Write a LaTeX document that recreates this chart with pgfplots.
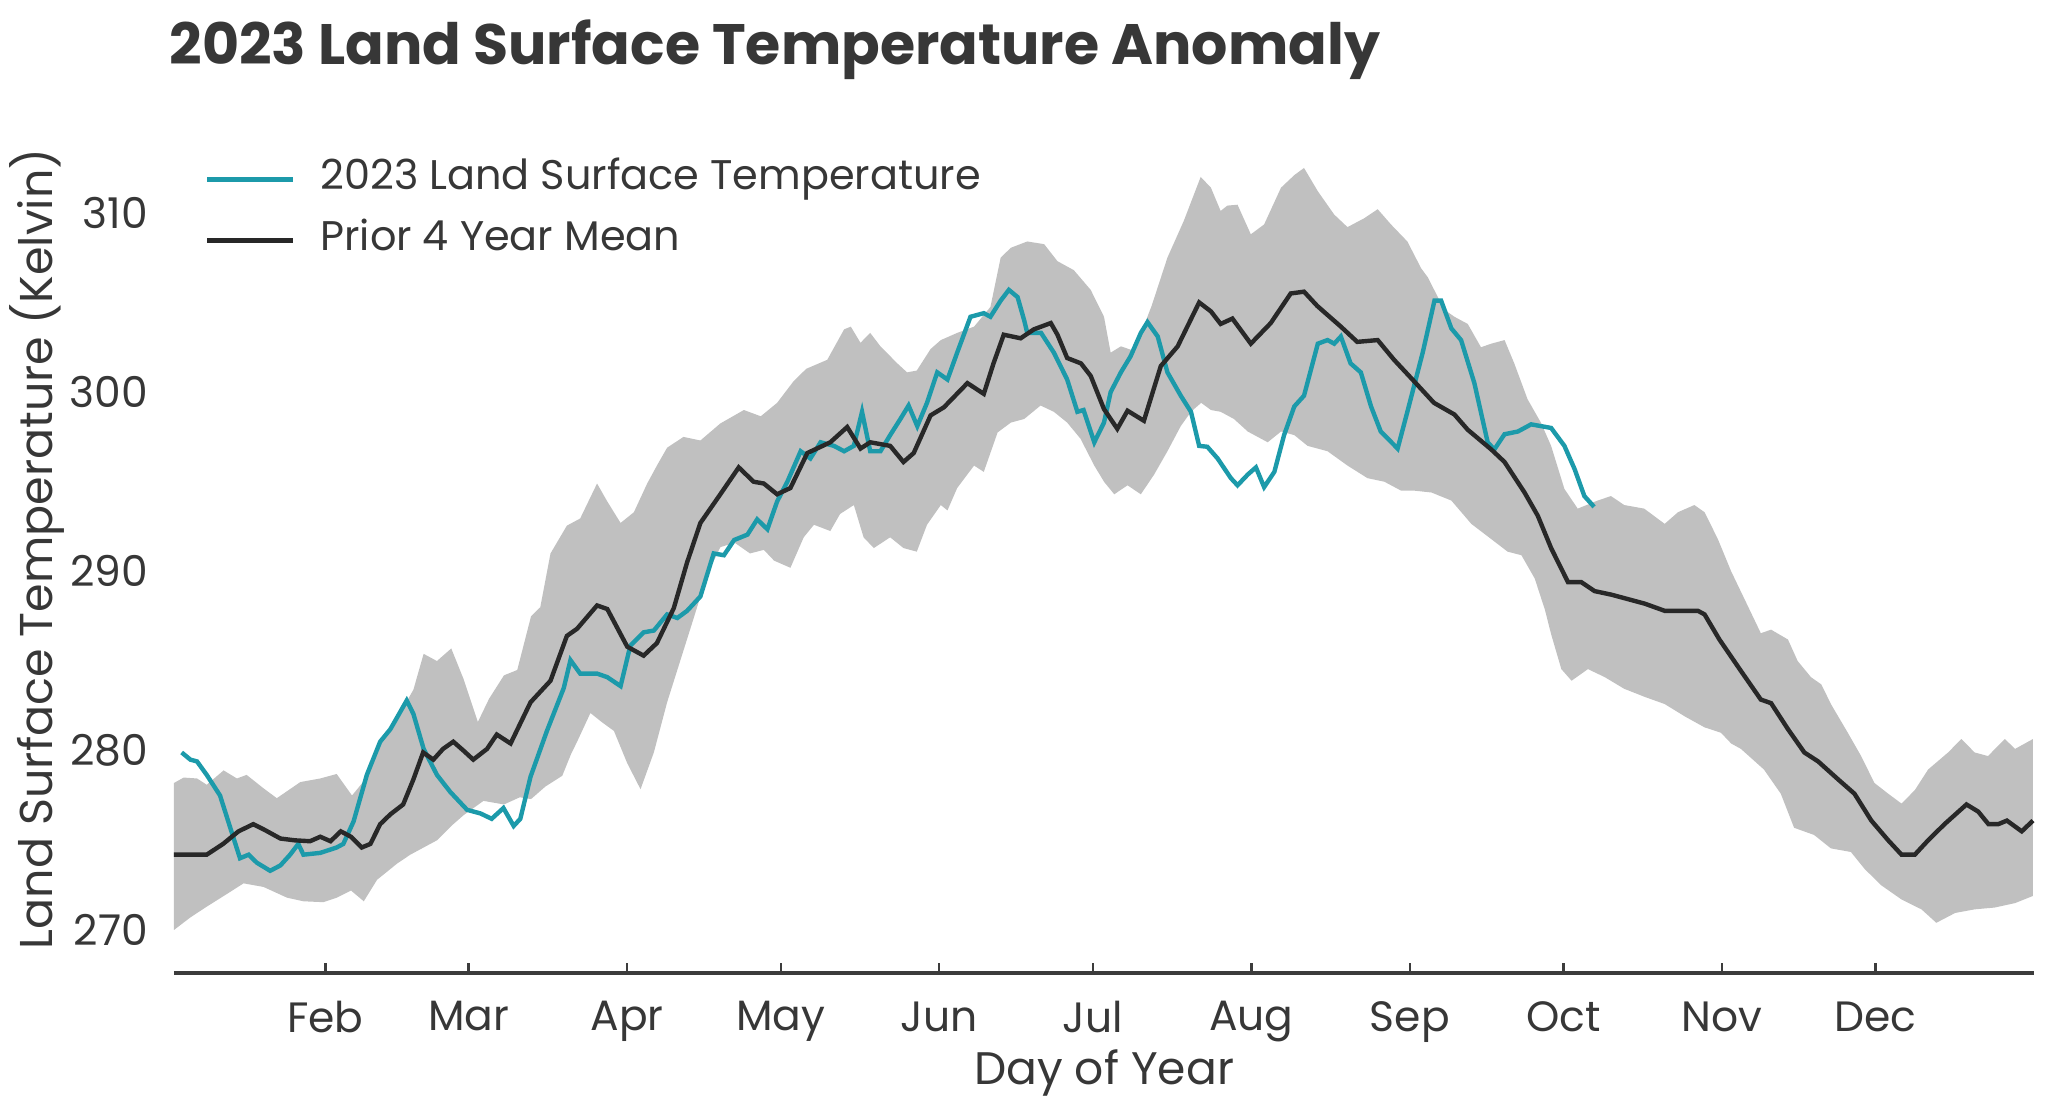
\documentclass[border=0pt]{standalone}
\usepackage{fontspec}
\setmainfont{Poppins}
\usepackage{pgfplots}
\pgfplotsset{compat=1.18}
\usepgfplotslibrary{fillbetween}
\definecolor{tealc}{RGB}{28,154,170}
\definecolor{meanc}{RGB}{40,40,40}
\definecolor{bandc}{RGB}{192,192,192}
\definecolor{textc}{RGB}{55,55,55}
\definecolor{axisc}{RGB}{60,60,60}
\begin{document}
\begin{tikzpicture}
\begin{axis}[
  at={(0,0)}, anchor=south west,
  scale only axis, width=465pt, height=203.5pt,
  xmin=2.4, xmax=366, ymin=267.6, ymax=313,
  axis x line*=bottom, axis y line*=left,
  x axis line style={-, draw=axisc, line width=1pt},
  y axis line style={draw=none},
  xtick={32,60,91,121,152,182,213,244,274,305,335},
  xticklabels={Feb,Mar,Apr,May,Jun,Jul,Aug,Sep,Oct,Nov,Dec},
  ytick={270,280,290,300,310},
  tick align=inside, major tick length=2.5pt,
  xtick style={draw=axisc, line width=0.6pt},
  ytick style={draw=none},
  /pgf/number format/assume math mode=true,
  /pgf/number format/1000 sep={},
  tick label style={font=\fontsize{10.6}{12}\selectfont, text=textc},
  yticklabel style={anchor=east, xshift=-3pt},
  xticklabel style={yshift=-3.6pt},
  xlabel={Day of Year},
  ylabel={Land Surface Temperature (Kelvin)},
  xlabel style={at={(axis description cs:0.5,-0.1222)}, anchor=center, inner sep=0pt, font=\fontsize{11.4}{13}\selectfont, text=textc},
  ylabel style={at={(axis description cs:-0.0737,0.521)}, anchor=center, inner sep=0pt, font=\fontsize{11.5}{13}\selectfont, text=textc},
  title={2023 Land Surface Temperature Anomaly},
  title style={at={(axis description cs:0,1.086)}, anchor=base west, inner sep=0pt, xshift=-1.3pt, font=\bfseries\fontsize{14.25}{17}\selectfont, text=textc},
  legend style={at={(axis description cs:0.0167,0.9996)}, anchor=north west, draw=none, fill=none,
    inner sep=0pt, outer sep=0pt, row sep=5.25pt, column sep=6.25pt,
    font=\fontsize{10.35}{12}\selectfont, text=textc,
    nodes={text height=7.5pt, text depth=2.5pt, inner sep=0pt}},
  legend cell align=left,
  legend image code/.code={\draw[#1, line width=1.1pt] (0pt,0pt) -- (21.5pt,0pt);},
  clip=false,
]
\addplot[name path=up, draw=none, forget plot] table {
2.4 278.2
4.3 278.5
6.9 278.45
8.8 278.1
12.1 278.9
14.7 278.45
16.6 278.65
19.9 277.9
22.5 277.35
27.1 278.25
31 278.45
34.2 278.7
37.2 277.5
39.5 278.3
42.1 280.1
46 281.8
49.2 283.4
51.2 285.4
53.8 285.0
56.6 285.7
59 284.0
61.8 281.6
64 282.9
66.9 284.2
69.5 284.5
72.2 287.5
74 288.0
76 291.0
79.2 292.55
81.8 292.95
85.1 294.9
87.1 293.9
89.7 292.7
92.3 293.3
94.9 294.9
96.8 295.9
98.8 296.9
102 297.5
105.3 297.3
109.2 298.25
113.8 299.0
117.1 298.65
120.3 299.4
123.5 300.6
126 301.3
130.1 301.8
133.4 303.5
134.7 303.65
136.6 302.75
138.5 303.3
140.5 302.55
143.8 301.6
145.7 301.1
147.6 301.2
150.3 302.4
152.3 302.9
155.5 303.3
158.8 303.65
162 304.75
164 307.5
166 308.05
169.2 308.4
172.5 308.25
175.1 307.3
178.3 306.8
181.6 305.7
184.2 304.2
185.5 302.2
187.5 302.55
190.1 302.3
193.5 304.8
196.6 307.5
199.8 309.55
203.1 312.0
205.1 311.4
207 310.1
208.3 310.4
210.3 310.45
212.9 308.8
215.5 309.35
218.8 311.4
221.4 312.1
223.3 312.5
226 311.2
229.2 309.9
231.8 309.2
235.1 309.7
237.7 310.2
240.3 309.35
243.5 308.4
246.2 306.9
247.5 306.4
250.7 304.6
252.7 304.2
255.3 303.8
257.9 302.5
259.9 302.7
262.5 302.9
264.4 301.6
267 299.6
269.6 298.3
271.6 297.0
274.2 294.6
276.8 293.5
280.7 293.95
283.3 294.2
285.9 293.7
289.8 293.5
293.8 292.65
296.4 293.3
299.6 293.7
301.6 293.3
304.2 291.8
306.8 290.0
310 288.1
312.6 286.55
314.6 286.75
317.9 286.2
319.8 285.0
322.4 284.1
324.4 283.7
326.4 282.55
329.6 281.0
332.2 279.7
334.8 278.2
337.5 277.6
340.1 277.05
342.7 277.8
345.3 278.95
349.2 279.9
351.8 280.65
354.4 279.9
357 279.7
360.3 280.65
362.3 280.1
365.8 280.65
};
\addplot[name path=lo, draw=none, forget plot] table {
2.4 270.0
5.6 270.7
8.8 271.3
12.7 272.0
16 272.6
19.9 272.4
24.5 271.8
27.7 271.6
31.6 271.55
34.2 271.8
37 272.2
39.5 271.6
42.1 272.8
46 273.7
48.6 274.2
51.2 274.6
53.8 275.0
57 275.9
59 276.4
62.9 277.2
66.9 277.0
70 277.4
72.2 277.3
75 278.0
78.3 278.6
80 279.8
81.2 280.5
83.8 282.1
86 281.6
88.4 281.1
91 279.3
93.6 277.85
96.2 279.9
98.8 282.7
101.4 285.05
104 287.4
106.6 289.8
109.2 291.35
112 291.6
115 291.0
117.7 291.2
119.7 290.6
122.9 290.2
125.5 291.9
127.5 292.6
130.7 292.25
132.6 293.2
135.3 293.7
137.2 291.9
139.2 291.3
142.4 291.9
145 291.3
147.6 291.1
149.6 292.6
152.3 293.7
153.6 293.4
155.5 294.65
158.8 295.9
160.7 295.55
163.4 297.75
166 298.3
168.6 298.5
171.8 299.25
174.4 298.9
177 298.3
179.6 297.4
182.3 295.9
184.2 295.0
186.2 294.3
188.8 294.8
191.4 294.3
194 295.4
196.6 296.7
199.2 298.1
201.2 298.9
203.2 299.4
205.1 299.0
207 298.9
209.6 298.5
212.3 297.8
216.2 297.2
218.8 297.8
221.4 297.6
224 297.0
227.9 296.7
231.8 295.9
235.7 295.2
239 295.0
242.3 294.5
244.9 294.5
248.2 294.4
252.1 293.95
256 292.65
259.9 291.8
263.1 291.1
265.8 290.9
268.4 289.6
270.4 287.85
271.6 286.5
273.6 284.55
275.6 283.9
278.8 284.55
282.1 284.1
285.9 283.45
289.9 283.0
293.8 282.6
297.8 281.9
301.6 281.3
304.8 281.0
306.8 280.4
308.7 280.1
313.2 278.95
316.5 277.6
319.1 275.7
323 275.3
326.3 274.55
330.2 274.35
332.9 273.4
336.1 272.5
340.1 271.7
344 271.15
346.9 270.4
350.6 270.95
354.4 271.15
358.3 271.25
362.3 271.5
365.8 271.9
};
\addplot[fill=bandc, draw=none, forget plot] fill between[of=up and lo];
\addplot[tealc, line width=1.1pt] table {
3.9 279.9
5.6 279.5
6.9 279.4
8.8 278.65
11.4 277.5
13.4 275.7
15.3 274.0
17 274.2
18.6 273.75
21.2 273.3
23.2 273.6
25.1 274.2
26.7 274.8
27.7 274.2
31 274.3
34.2 274.6
35.5 274.8
37.5 276.05
40.1 278.65
42.7 280.5
44.7 281.2
47.9 282.8
49.2 282.05
51.2 280.1
53.8 278.65
56.4 277.7
59.7 276.7
62.3 276.5
64.5 276.2
66.8 276.8
68.8 275.8
70.1 276.2
72.1 278.55
75.3 281.1
78.6 283.5
79.9 285.05
81.8 284.3
85.1 284.3
87.1 284.1
89.7 283.6
91.6 285.85
94.2 286.6
96.2 286.7
98.8 287.6
100.8 287.4
102.7 287.8
105.3 288.6
107.9 291.0
109.9 290.9
111.9 291.75
114.5 292.05
116.4 292.9
118.4 292.35
120.3 293.9
122.3 295.0
124.9 296.7
126.8 296.3
128.8 297.2
131.4 297.0
133.4 296.7
135.3 297.0
136.9 298.9
138.5 296.7
140.5 296.7
142.4 297.6
144.4 298.5
146 299.25
147.7 298.1
149.6 299.4
151.6 301.1
153.6 300.7
155.5 302.2
158.1 304.2
160.7 304.4
162 304.2
164 305.1
165.6 305.7
167.3 305.3
168.6 304.0
169.2 303.3
171.9 303.3
174.4 302.2
177 300.7
179 298.9
180.2 299.0
182.3 297.2
184.2 298.3
185.5 300.0
187.5 301.1
189.4 302.0
191.4 303.3
192.7 303.9
194.7 303.1
196.6 301.1
199.2 299.8
201.2 298.9
202.8 297.0
204.4 296.95
206.4 296.3
209 295.2
210.3 294.8
212.3 295.4
213.9 295.8
215.5 294.7
217.5 295.55
219.4 297.6
221.4 299.2
223.3 299.8
226 302.7
227.9 302.9
229.2 302.7
230.5 303.1
232.4 301.6
234.4 301.1
236.4 299.2
238.3 297.8
241.6 296.85
243.5 298.9
246.5 302.2
248.8 305.1
250.1 305.1
252.1 303.55
254 302.9
256.6 300.5
259.2 297.2
260.5 296.8
262.5 297.65
265.1 297.8
267.7 298.2
271.6 298.0
274.2 297.0
276.2 295.7
278.1 294.2
280 293.6
};
\addlegendentry{2023 Land Surface Temperature}
\addplot[meanc, line width=1.1pt] table {
2.4 274.2
8.8 274.2
12 274.8
15 275.5
17.9 275.9
20 275.6
23.2 275.1
26 275.0
29 274.95
31 275.2
33 274.95
35 275.5
37 275.2
39.1 274.6
40.8 274.8
42.7 275.9
44.7 276.45
47.2 277.0
49.2 278.4
51.1 279.9
53.1 279.5
55 280.1
57 280.5
59 280.0
60.9 279.5
63.6 280.1
65.5 280.9
68.2 280.4
72.1 282.7
76 283.9
79.2 286.4
81.2 286.8
85.1 288.1
87.1 287.9
91 285.8
94.2 285.3
96.8 286.0
100.1 287.95
102.7 290.5
105.3 292.7
109.2 294.3
112.8 295.8
115.7 295.0
117.7 294.9
120.3 294.3
122.9 294.65
126.2 296.6
130.7 297.2
134 298.05
136.6 296.85
138.5 297.2
142.4 297.0
145 296.1
147 296.6
150.3 298.7
152.9 299.15
157.5 300.5
160.7 299.9
162.6 301.6
164.6 303.2
167.9 303.0
170.5 303.5
173.8 303.85
175.1 303.2
177 301.9
179.7 301.6
181.6 300.9
184.2 299.05
186.8 297.95
188.8 298.96
192 298.4
195.3 301.45
198.6 302.55
202.8 305.0
205.1 304.5
207 303.8
209.3 304.1
212.9 302.7
216.8 303.85
220.7 305.5
223.3 305.6
225.9 304.8
230.5 303.65
233.7 302.8
237.7 302.9
240.9 301.8
244.5 300.7
248.7 299.4
252.7 298.75
255.3 297.9
259.9 296.8
262.5 296.1
266.4 294.4
269 293.1
271.6 291.3
274.9 289.4
277.5 289.4
280.1 288.9
283.4 288.7
289.9 288.2
293.8 287.8
300.3 287.8
301.6 287.6
304.5 286.2
308.7 284.45
312.6 282.85
314.6 282.65
317.9 281.2
321.1 279.9
323.8 279.4
327.7 278.4
330.9 277.6
334.2 276.1
337.5 275.0
340.1 274.2
342.7 274.2
345.3 275.0
348.5 275.9
352.8 277.0
355.1 276.6
357.1 275.9
359 275.9
360.7 276.1
363.6 275.5
365.8 276.1
};
\addlegendentry{Prior 4 Year Mean}
\end{axis}
\path (-43.5pt,-33.25pt) rectangle (468.5pt,243.25pt);
\end{tikzpicture}
\end{document}
